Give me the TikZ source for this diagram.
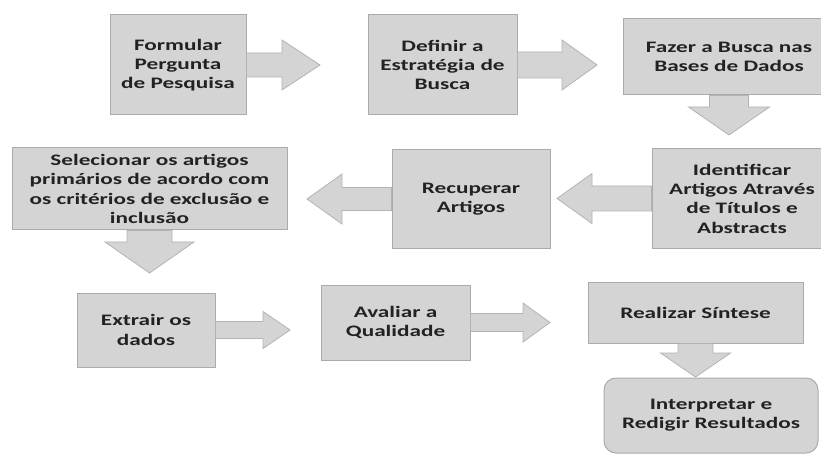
\documentclass[tikz,border=0pt]{standalone}
\usepackage{fontspec}
\usetikzlibrary{calc}
\newfontfamily\stepfont{Carlito}[FakeStretch=1.45]
\definecolor{stepfill}{HTML}{D4D4D4}
\definecolor{stepline}{HTML}{ABABAB}
\definecolor{steptext}{HTML}{222222}
\tikzset{
  stepbox/.style={draw=stepline,fill=stepfill,line width=1pt,text=steptext,align=center,inner sep=0pt,
    font=\stepfont\bfseries\fontsize{16}{19.3}\selectfont},
  arrowbody/.style={draw=stepline!80!stepfill,fill=stepfill,line width=0.8pt,line join=miter},
  % #1 shaft width, #2 head length, #3 head width
  blockarrow/.style n args={3}{to path={let \p1=($(\tikztotarget)!#2!(\tikztostart)$) in
    ($(\tikztostart)!#1/2!90:(\tikztotarget)$) -- ($(\p1)!#1/2!90:(\tikztotarget)$)
    -- ($(\p1)!#3/2!90:(\tikztotarget)$) -- (\tikztotarget)
    -- ($(\p1)!#3/2!-90:(\tikztotarget)$) -- ($(\p1)!#1/2!-90:(\tikztotarget)$)
    -- ($(\tikztostart)!#1/2!-90:(\tikztotarget)$) -- cycle}}
}
\begin{document}
\begin{tikzpicture}[x=1pt,y=-1pt]
\useasboundingbox[fill=white] (0,0) rectangle (821,454);
% Drawing steps
\node[stepbox,minimum width=136pt,minimum height=100pt] (formular) at (178,65) {Formular\\Pergunta\\de Pesquisa};
\node[stepbox,minimum width=149pt,minimum height=100pt] (definir) at (442.5,65) {Definir a\\Estratégia de\\Busca};
\node[stepbox,minimum width=212pt,minimum height=76pt] (fazer) at (729,57) {Fazer a Busca nas\\Bases de Dados};
\node[stepbox,minimum width=180pt,minimum height=99pt] (identificar) at (742,198.5) {Identificar\\Artigos Através\\de Títulos e\\Abstracts};
\node[stepbox,minimum width=158pt,minimum height=98pt] (recuperar) at (471,199) {Recuperar\\Artigos};
\node[stepbox,minimum width=275pt,minimum height=82pt] (selecionar) at (149.5,189) {Selecionar os artigos\\primários de acordo com\\os critérios de exclusão e\\inclusão};
\node[stepbox,minimum width=138pt,minimum height=74pt] (extrair) at (146,330) {Extrair os\\dados};
\node[stepbox,minimum width=149pt,minimum height=75pt] (avaliar) at (395.5,322.5) {Avaliar a\\Qualidade};
\node[stepbox,minimum width=215pt,minimum height=61pt] (realizar) at (695.5,312.5) {Realizar Síntese};
\node[stepbox,rounded corners=12pt,minimum width=214pt,minimum height=75pt] (interpretar) at (711,415.5) {Interpretar e\\Redigir Resultados};
% Done with steps; arrow tips
\coordinate (tip1) at (320,65);
\coordinate (tip2) at (597,65);
\coordinate (tip3) at (729,135);
\coordinate (tip4) at (557,198.5);
\coordinate (tip5) at (307,199);
\coordinate (tip6) at (149.5,273);
\coordinate (tip7) at (290,330);
\coordinate (tip8) at (550,322.5);
\coordinate (tip9) at (695.5,377);
% Drawing arrows
\draw[arrowbody] (formular.east) to[blockarrow={24pt}{38pt}{50pt}] (tip1);
\draw[arrowbody] (definir.east) to[blockarrow={26pt}{35pt}{50pt}] (tip2);
\draw[arrowbody] (fazer.south) to[blockarrow={39pt}{28pt}{81pt}] (tip3);
\draw[arrowbody] (identificar.west) to[blockarrow={25pt}{35pt}{50pt}] (tip4);
\draw[arrowbody] (recuperar.west) to[blockarrow={23pt}{35pt}{50pt}] (tip5);
\draw[arrowbody] (selecionar.south) to[blockarrow={45pt}{31pt}{89pt}] (tip6);
\draw[arrowbody] (extrair.east) to[blockarrow={17pt}{27pt}{37pt}] (tip7);
\draw[arrowbody] (avaliar.east) to[blockarrow={18pt}{27pt}{39pt}] (tip8);
\draw[arrowbody] (realizar.south) to[blockarrow={35pt}{24pt}{70pt}] (tip9);
% Done with arrows
\end{tikzpicture}
\end{document}
